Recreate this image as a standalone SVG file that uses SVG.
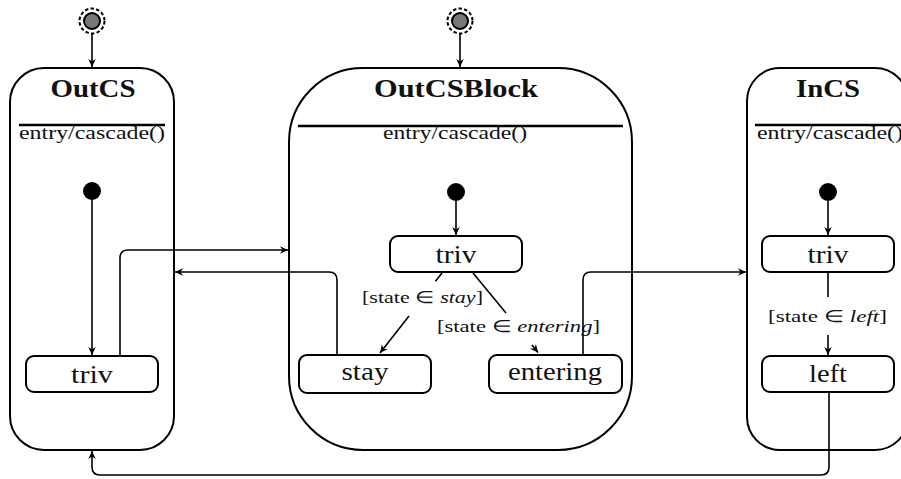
<svg xmlns="http://www.w3.org/2000/svg" width="901" height="479" viewBox="0 0 901 479">
<style>
.state{fill:none;stroke:#000;stroke-width:2}
.box{fill:#fff;stroke:#000;stroke-width:2}
.hdr{stroke:#000;stroke-width:2.5}
.title{font-family:"Liberation Serif",serif;font-weight:bold;font-size:25px;text-anchor:middle;fill:#111}
.entry{font-family:"Liberation Serif",serif;font-size:19px;text-anchor:middle;fill:#111}
.name{font-family:"Liberation Serif",serif;font-size:26px;text-anchor:middle;fill:#111}
.lbl{font-family:"Liberation Serif",serif;font-size:17px;fill:#111}
.conn path{fill:none;stroke:#000;stroke-width:1.6}
.dot{fill:#000}
.hist{fill:none;stroke:#000;stroke-width:2;stroke-dasharray:3.5 2.2}
.histin{fill:#777;stroke:#000;stroke-width:2}
</style>
<defs>
<marker id="arr" markerUnits="userSpaceOnUse" markerWidth="12" markerHeight="12" refX="0" refY="0" viewBox="-10 -6 12 12" orient="auto" overflow="visible">
<path d="M0,0 L-8,-3.8 L-5.5,0 L-8,3.8 Z" fill="#000"/>
</marker>
</defs>

<g id="OutCS">
<rect class="state" x="10" y="68" width="164" height="382" rx="34" ry="34"/>
<text class="title" x="93" y="97" textLength="85" lengthAdjust="spacingAndGlyphs">OutCS</text>
<line class="hdr" x1="19" y1="125" x2="165" y2="125"/>
<text class="entry" x="92" y="139" textLength="146" lengthAdjust="spacingAndGlyphs">entry/cascade()</text>
</g>
<g id="OutCSBlock">
<rect class="state" x="289" y="68" width="343" height="382" rx="74" ry="74"/>
<text class="title" x="456" y="97" textLength="164" lengthAdjust="spacingAndGlyphs">OutCSBlock</text>
<line class="hdr" x1="298" y1="126" x2="623" y2="126" stroke-width="2"/>
<text class="entry" x="455" y="139" textLength="144" lengthAdjust="spacingAndGlyphs">entry/cascade()</text>
</g>
<g id="InCS">
<rect class="state" x="747" y="68" width="161" height="382" rx="33" ry="33"/>
<text class="title" x="828" y="97" textLength="64" lengthAdjust="spacingAndGlyphs">InCS</text>
<line class="hdr" x1="755" y1="125" x2="905" y2="125"/>
<text class="entry" x="830" y="139" textLength="146" lengthAdjust="spacingAndGlyphs">entry/cascade()</text>
</g>

<g id="hist1"><circle class="hist" cx="92" cy="21" r="12.5"/><circle class="histin" cx="92" cy="21" r="8"/></g>
<g id="hist2"><circle class="hist" cx="460" cy="21" r="12.5"/><circle class="histin" cx="460" cy="21" r="8"/></g>

<g id="init1"><circle class="dot" cx="92" cy="191" r="9"/></g>
<g id="init2"><circle class="dot" cx="456" cy="192" r="9"/></g>
<g id="init3"><circle class="dot" cx="828" cy="192" r="9"/></g>

<g id="OutCS_triv"><rect class="box" x="26" y="356" width="132" height="36" rx="8"/><text class="name" x="92" y="383" textLength="42" lengthAdjust="spacingAndGlyphs">triv</text></g>
<g id="OutCSBlock_triv"><rect class="box" x="390" y="236" width="132" height="36" rx="8"/><text class="name" x="456" y="263" textLength="41" lengthAdjust="spacingAndGlyphs">triv</text></g>
<g id="stay"><rect class="box" x="299" y="355" width="132" height="38" rx="8"/><text class="name" x="365" y="380" textLength="47" lengthAdjust="spacingAndGlyphs">stay</text></g>
<g id="entering"><rect class="box" x="489" y="355" width="133" height="38" rx="8"/><text class="name" x="555" y="380" textLength="94" lengthAdjust="spacingAndGlyphs">entering</text></g>
<g id="InCS_triv"><rect class="box" x="762" y="236" width="132" height="36" rx="8"/><text class="name" x="828" y="263" textLength="41" lengthAdjust="spacingAndGlyphs">triv</text></g>
<g id="left"><rect class="box" x="762" y="356" width="132" height="36" rx="8"/><text class="name" x="828" y="382" textLength="38" lengthAdjust="spacingAndGlyphs">left</text></g>

<g id="connectors" class="conn">
<path d="M92,34 V67" marker-end="url(#arr)"/>
<path d="M460,34 V67" marker-end="url(#arr)"/>
<path d="M92,199 V355" marker-end="url(#arr)"/>
<path d="M456,201 V235" marker-end="url(#arr)"/>
<path d="M828,201 V235" marker-end="url(#arr)"/>
<path d="M120,356 V258 Q120,250 128,250 H288" marker-end="url(#arr)"/>
<path d="M337,355 V280 Q337,272 329,272 H175" marker-end="url(#arr)"/>
<path d="M583,355 V280 Q583,272 591,272 H746" marker-end="url(#arr)"/>
<path d="M442,273 L435.5,281.3"/>
<path d="M409,316 L380,353" marker-end="url(#arr)"/>
<path d="M473,273 L506,313"/>
<path d="M532,345 L538,352.5" marker-end="url(#arr)"/>
<path d="M828,272 V297"/>
<path d="M828,335 V355" marker-end="url(#arr)"/>
<path d="M829,392 V467 Q829,475 821,475 H100 Q92,475 92,467 V451" marker-end="url(#arr)"/>
</g>

<g id="labels">
<text class="lbl" x="362" y="303" textLength="121" lengthAdjust="spacingAndGlyphs">[state ∈ <tspan font-style="italic">stay</tspan>]</text>
<text class="lbl" x="437" y="332" textLength="163" lengthAdjust="spacingAndGlyphs">[state ∈ <tspan font-style="italic">entering</tspan>]</text>
<text class="lbl" x="768" y="322" textLength="119" lengthAdjust="spacingAndGlyphs">[state ∈ <tspan font-style="italic">left</tspan>]</text>
</g>
</svg>
